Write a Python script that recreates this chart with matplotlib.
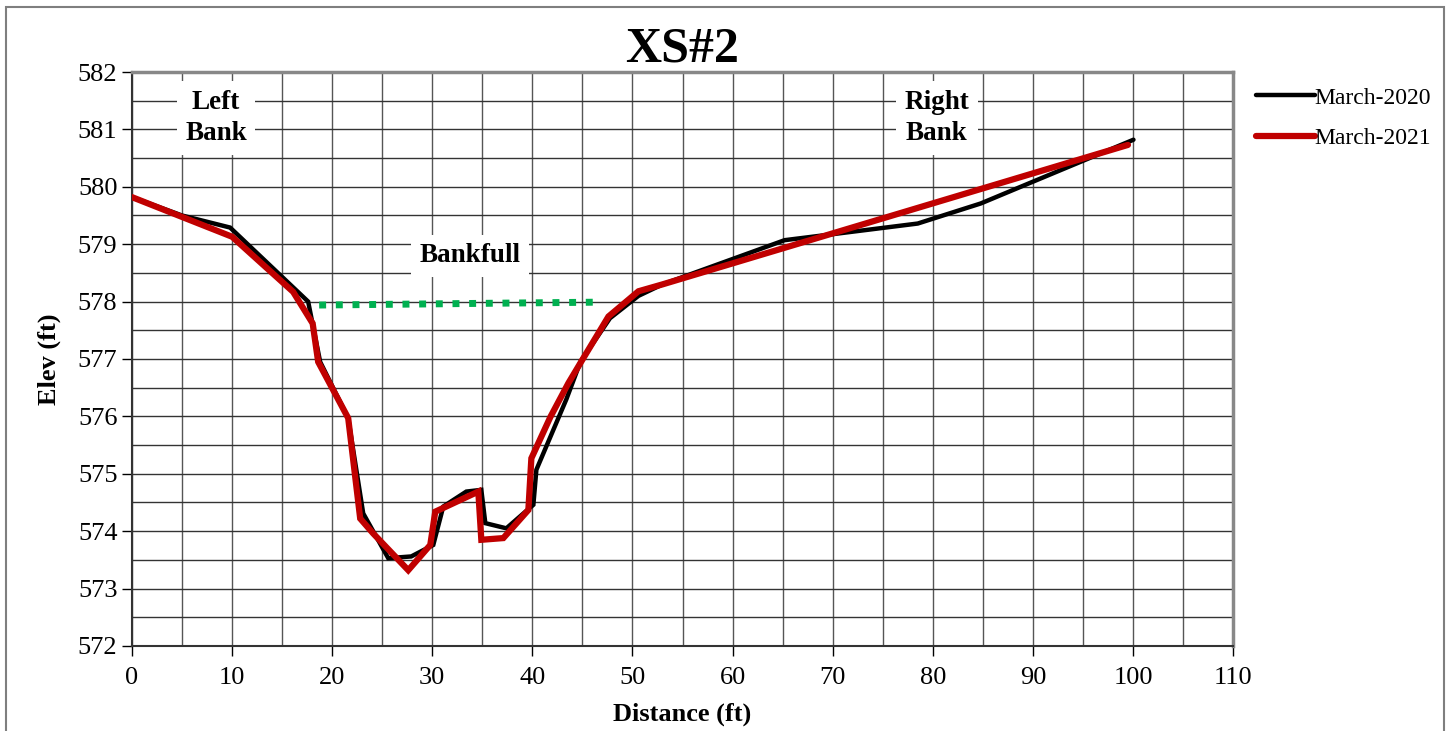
#!/usr/bin/env python3
"""Cross-section XS#2 survey comparison, March 2020 vs March 2021."""

import matplotlib
matplotlib.use('Agg')
import matplotlib.pyplot as plt
from matplotlib.patches import Rectangle
from matplotlib.ticker import MultipleLocator

plt.rcParams['font.family'] = ['Liberation Serif', 'DejaVu Serif']

# March-2020 survey (distance ft, elevation ft)
dist_2020 = [0, 5.0, 9.8, 17.6, 18.0, 18.8, 21.6, 23.1, 25.6, 27.9, 30.1, 31.1,
             33.4, 34.9, 35.3, 37.4, 40.1, 40.4, 43.4, 44.8, 47.75, 50.6, 53.0,
             65.2, 69.8, 78.5, 84.8, 100.05]
elev_2020 = [579.82, 579.50, 579.29, 578.00, 577.65, 576.95, 575.97, 574.31,
             573.53, 573.56, 573.76, 574.43, 574.69, 574.72, 574.14, 574.05,
             574.46, 575.07, 576.30, 576.95, 577.71, 578.10, 578.30, 579.07,
             579.17, 579.36, 579.71, 580.82]

# March-2021 survey
dist_2021 = [0, 10.0, 16.1, 18.05, 18.6, 21.6, 22.8, 24.1, 27.6, 29.8, 30.3,
             34.6, 34.9, 37.1, 39.6, 39.9, 41.8, 43.6, 44.8, 47.6, 50.6, 53.0,
             99.5]
elev_2021 = [579.82, 579.13, 578.17, 577.62, 576.95, 575.97, 574.22, 573.96,
             573.32, 573.76, 574.34, 574.69, 573.85, 573.88, 574.37, 575.27,
             575.99, 576.58, 576.93, 577.74, 578.18, 578.30, 580.73]

# Bankfull stage
bankfull_dist = [18.7, 46.5]
bankfull_elev = [577.94, 577.99]


def main():
    fig = plt.figure(figsize=(14.52, 7.31), dpi=100)
    ax = fig.add_axes([0.0909, 0.1163, 0.7583, 0.7852])

    ax.set_xlim(0, 110)
    ax.set_ylim(572, 582)
    ax.xaxis.set_major_locator(MultipleLocator(10))
    ax.xaxis.set_minor_locator(MultipleLocator(5))
    ax.yaxis.set_major_locator(MultipleLocator(1))
    ax.yaxis.set_minor_locator(MultipleLocator(0.5))

    ax.grid(True, which='both', axis='x', color='#555555', lw=1.0)
    ax.grid(True, which='both', axis='y', color='#333333', lw=1.0)
    ax.set_axisbelow(True)

    ax.tick_params(which='major', direction='out', length=7, width=1,
                   labelsize=19, colors='black')
    ax.tick_params(axis='x', which='major', pad=8)
    ax.tick_params(which='minor', length=0)
    for side in ('top', 'right'):
        ax.spines[side].set_color('#888888')
        ax.spines[side].set_linewidth(2.5)
    for side in ('left', 'bottom'):
        ax.spines[side].set_color('#333333')
        ax.spines[side].set_linewidth(1.5)

    ax.plot(bankfull_dist, bankfull_elev, color='#00B050', lw=5,
            linestyle=(0, (1.0, 1.4)), zorder=3)
    ax.plot(dist_2020, elev_2020, color='black', lw=3.2, label='March-2020',
            solid_capstyle='round', solid_joinstyle='miter', zorder=4)
    ax.plot(dist_2021, elev_2021, color='#C00000', lw=4.5, label='March-2021',
            solid_capstyle='round', solid_joinstyle='miter', zorder=5)

    box = dict(facecolor='white', edgecolor='none', pad=6)
    ax.text(8.4, 581.2, 'Left\nBank', ha='center', va='center', fontsize=19.5,
            fontweight='bold', linespacing=1.35, bbox=box, zorder=6)
    ax.text(80.4, 581.2, 'Right\nBank', ha='center', va='center', fontsize=19.5,
            fontweight='bold', linespacing=1.35, bbox=box, zorder=6)
    ax.text(33.8, 578.8, 'Bankfull', ha='center', va='center', fontsize=19.5,
            fontweight='bold', bbox=box, zorder=6)

    ax.set_title('XS#2', fontsize=36, fontweight='bold', pad=6)
    ax.set_xlabel('Distance (ft)', fontsize=19, fontweight='bold', labelpad=10)
    ax.set_ylabel('Elev (ft)', fontsize=19, fontweight='bold', labelpad=12)

    ax.legend(loc='upper left', bbox_to_anchor=(1.012, 0.99), frameon=False,
              fontsize=17, handlelength=2.5, handletextpad=0.0,
              labelspacing=0.8, borderaxespad=0)

    # outer chart frame
    fig.patches.append(Rectangle((6 / 1452, -0.02), 1438 / 1452, 1.02 - 7 / 731,
                                 transform=fig.transFigure, fill=False,
                                 edgecolor='#7f7f7f', lw=1.5))

    fig.savefig('out.png', dpi=100)


if __name__ == '__main__':
    main()
